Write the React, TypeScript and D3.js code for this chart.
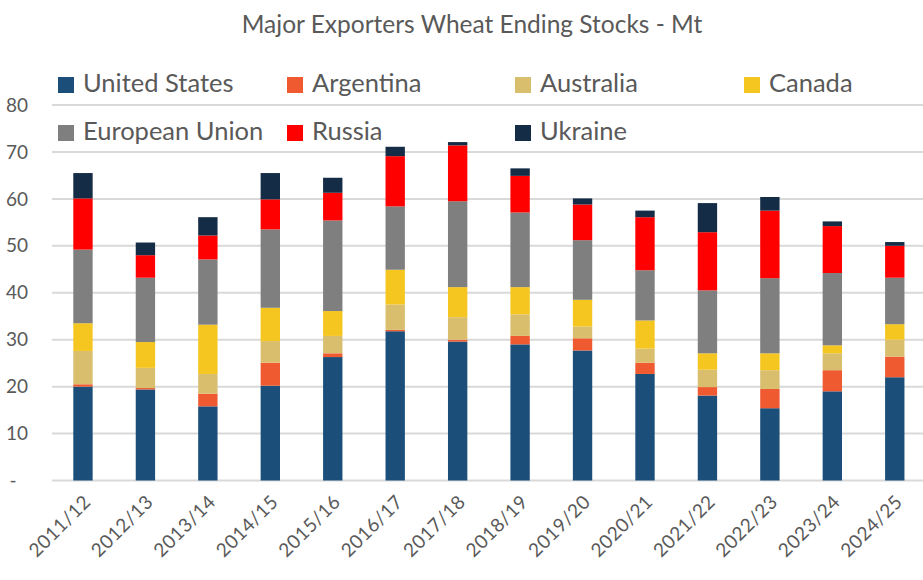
import React from "react";
import * as d3 from "d3";

const years = ["2011/12","2012/13","2013/14","2014/15","2015/16","2016/17","2017/18","2018/19","2019/20","2020/21","2021/22","2022/23","2023/24","2024/25"];
const unitedStates = [20.0,19.4,15.8,20.2,26.3,31.8,29.6,29.0,27.7,22.7,18.1,15.4,19.0,22.0];
const argentina    = [0.5,0.3,2.7,4.9,0.8,0.3,0.4,1.8,2.6,2.4,1.8,4.1,4.5,4.4];
const australia    = [7.1,4.3,4.2,4.6,3.7,5.4,4.8,4.6,2.5,3.0,3.7,4.0,3.6,3.6];
const canada       = [5.9,5.5,10.5,7.1,5.3,7.4,6.4,5.8,5.7,6.0,3.5,3.6,1.7,3.3];
const europeanUnion= [15.7,13.7,13.9,16.7,19.3,13.5,18.3,15.9,12.7,10.7,13.4,16.0,15.4,9.9];
const russia       = [10.9,4.8,5.1,6.4,5.9,10.7,11.9,7.8,7.6,11.3,12.4,14.4,10.0,6.8];
const ukraine      = [5.4,2.7,3.9,5.6,3.2,2.0,0.7,1.6,1.3,1.4,6.2,2.9,1.0,0.8];
const seriesNames = ["United States","Argentina","Australia","Canada","European Union","Russia","Ukraine"];
const yTicks = [0,10,20,30,40,50,60,70,80];

const colors = ["#1B4F7A","#F05A30","#D9BE6E","#F6C620","#7F7F7F","#FF0000","#142C45"];
const textColor = "#595959";
const font = "Lato, 'Open Sans', sans-serif";

export default function App() {
  const W = 923, H = 580;
  const seriesValues = [unitedStates, argentina, australia, canada, europeanUnion, russia, ukraine];
  const rows = years.map((y, i) => {
    const r: any = { year: y };
    seriesNames.forEach((n, k) => (r[n] = seriesValues[k][i]));
    return r;
  });
  const stacked = d3.stack<any>().keys(seriesNames)(rows);

  const x = d3.scaleBand<string>().domain(years).range([51.75, 926]).paddingInner(0.69).paddingOuter(0.345);
  const y = d3.scaleLinear().domain([0, 80]).range([480.5, 105]);

  const legendCols = [58, 287, 515, 744];
  const legendRows = [77, 125];

  return (
    <svg width={W} height={H} style={{ display: "block", position: "absolute", left: 0, top: 0, background: "#fff" }} fontFamily={font}>
      <text x={472} y={33} textAnchor="middle" fontSize={24.5} fill={textColor}>Major Exporters Wheat Ending Stocks - Mt</text>
      {yTicks.map(t => (
        <line key={"g" + t} x1={52} x2={923} y1={y(t)} y2={y(t)} stroke="#D9D9D9" strokeWidth={2} />
      ))}
      {yTicks.map(t => (
        <text key={"t" + t} x={t === 0 ? 13 : 28} y={y(t)} dy="0.35em" textAnchor={t === 0 ? "middle" : "end"} fontSize={19} fill={textColor}>
          {t === 0 ? "-" : String(t)}
        </text>
      ))}
      {stacked.map((s, k) => (
        <g key={s.key} fill={colors[k]}>
          {s.map((d, i) => (
            <rect key={i} x={x(years[i])} width={x.bandwidth()} y={y(d[1])} height={Math.max(0, y(d[0]) - y(d[1]))} />
          ))}
        </g>
      ))}
      {years.map(yr => (
        <text key={yr} transform={`translate(${(x(yr) as number) + x.bandwidth() / 2 + 9},${503}) rotate(-45)`} textAnchor="end" fontSize={19} letterSpacing={0.5} fill={textColor}>
          {yr}
        </text>
      ))}
      {seriesNames.map((n, k) => {
        const cx = legendCols[k % 4];
        const cy = legendRows[Math.floor(k / 4)];
        return (
          <g key={n}>
            <rect x={cx} y={cy} width={16} height={16} fill={colors[k]} />
            <text x={cx + 25} y={cy + 15} fontSize={25.5} fill={textColor}>{n}</text>
          </g>
        );
      })}
    </svg>
  );
}
